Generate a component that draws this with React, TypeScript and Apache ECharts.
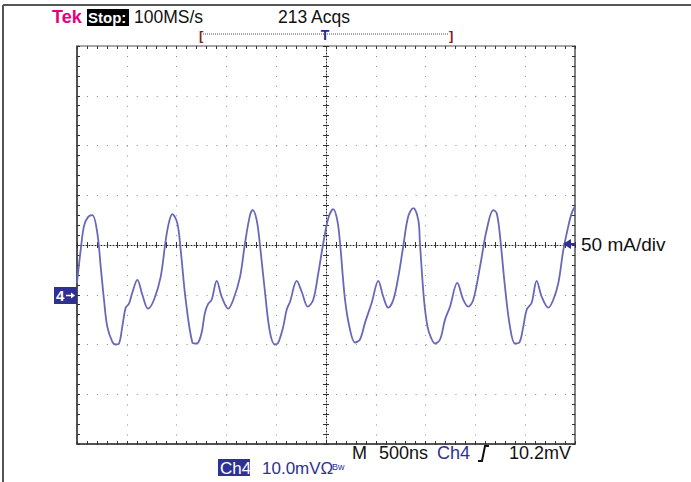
import React, { useEffect, useRef } from "react";
import * as echarts from "echarts";

// Oscilloscope acquisition: Ch4 current probe, 50 mA/div, 500 ns/div
const timeNs: number[] = [
  -2500, -2463, -2430, -2390, -2346, -2296, -2262, -2229, -2196, -2146, -2112, -2078, -2045, -2011,
  -1978, -1945, -1894, -1844, -1787, -1727, -1660, -1609, -1576, -1543, -1493, -1459, -1409, -1342,
  -1310, -1282, -1248, -1215, -1182, -1148, -1097, -1047, -981, -931, -863, -813, -763, -736,
  -696, -663, -612, -562, -512, -479, -429, -395, -361, -294, -244, -183, -128,
  -77, -27, 23, 73, 113, 141, 191, 241, 291, 341, 392, 459, 525, 575, 625, 676,
  726, 776, 826, 877, 927, 943, 984, 1019, 1054, 1094, 1145, 1195, 1245, 1318, 1378, 1428, 1479,
  1546, 1613, 1680, 1714, 1747, 1797, 1847, 1897, 1941, 1981, 2015, 2065, 2115, 2166, 2232, 2282,
  2333, 2383, 2433, 2467, 2500,
];
const currentMA: number[] = [
  12, 45, 69, 78, 80, 62, 28, -5, -32, -47, -50, -49, -32, -13,
  -9, 2, 15, 0, -14, -5, 18, 55, 73, 81, 72, 45, -5, -48,
  -49, -48, -38, -18, -9, -5, 14, -2, -14, -5, 18, 52, 80, 85,
  75, 50, 2, -38, -50, -48, -32, -15, -7, 14, 3, -12, -5,
  22, 52, 77, 86, 75, 52, -5, -35, -48, -45, -28, -8, 14, -2, -13, -5,
  18, 49, 79, 87, 75, 52, -5, -32, -43, -49, -45, -25, -12, 12, -5, -12, -5,
  28, 65, 85, 82, 59, 8, -32, -49, -48, -32, -15, -8, 14, -2, -13, -5,
  12, 45, 69, 82, 89,
];

const X_MIN = -2500;
const X_MAX = 2500;
const X_DIV = 500; // 500 ns/div
const Y_MIN = -150;
const Y_MAX = 250;
const Y_DIV = 50; // 50 mA/div

const FONT = '"Liberation Sans", Arial, Helvetica, sans-serif';
const NAVY = "#2e3192";

export default function App() {
  const ref = useRef<HTMLDivElement>(null);

  useEffect(() => {
    document.body.style.margin = "0";
    if (!ref.current) return;
    const chart = echarts.init(ref.current, undefined, { renderer: "svg" });

    const tickStyle = { color: "#333", width: 1 };
    const dotted = { color: "#8a8a8a", width: 1, type: [1, 8.96] as any };

    const frameX = (position: string, lineColor: string, split: boolean) => ({
      type: "value",
      min: X_MIN,
      max: X_MAX,
      interval: X_DIV,
      position,
      axisLine: { show: true, onZero: false, lineStyle: { color: lineColor, width: 1.5 } },
      axisTick: { show: true, inside: true, length: 3, lineStyle: tickStyle },
      minorTick: { show: true, splitNumber: 5, length: 3, lineStyle: tickStyle },
      axisLabel: { show: false },
      splitLine: { show: split, lineStyle: dotted },
    });
    const centerX = (position: string, line: boolean) => ({
      type: "value",
      min: X_MIN,
      max: X_MAX,
      interval: X_DIV,
      position,
      axisLine: {
        show: line,
        onZero: true,
        onZeroAxisIndex: 1,
        lineStyle: { color: "#222", width: 1, type: [1, 2] as any },
      },
      axisTick: { show: true, inside: true, length: 3, lineStyle: tickStyle },
      minorTick: { show: true, splitNumber: 5, length: 3, lineStyle: tickStyle },
      axisLabel: { show: false },
      splitLine: { show: false },
    });
    const frameY = (position: string, min: number, max: number, lineColor: string, split: boolean) => ({
      type: "value",
      min,
      max,
      interval: Y_DIV,
      position,
      axisLine: { show: true, onZero: false, lineStyle: { color: lineColor, width: 1.5 } },
      axisTick: { show: true, inside: true, length: 3, lineStyle: tickStyle },
      minorTick: { show: true, splitNumber: 5, length: 3, lineStyle: tickStyle },
      axisLabel: { show: false },
      splitLine: { show: split, lineStyle: dotted },
    });
    const centerY = (position: string, line: boolean) => ({
      type: "value",
      min: Y_MIN,
      max: Y_MAX,
      interval: Y_DIV,
      position,
      axisLine: {
        show: line,
        onZero: true,
        onZeroAxisIndex: 0,
        lineStyle: { color: "#222", width: 1, type: [1, 2] as any },
      },
      axisTick: { show: true, inside: true, length: 3, lineStyle: tickStyle },
      minorTick: { show: true, splitNumber: 5, length: 3, lineStyle: tickStyle },
      axisLabel: { show: false },
      splitLine: { show: false },
    });

    const txt = (text: string, x: number, y: number, fill: string, size: number, extra: any = {}) => ({
      type: "text",
      x,
      y,
      z: 10,
      style: {
        text,
        fill,
        font: `${extra.weight || "normal"} ${size}px ${FONT}`,
        align: extra.align || "left",
        verticalAlign: "middle",
      },
    });

    chart.setOption({
      animation: false,
      backgroundColor: "#ffffff",
      grid: { left: 77, top: 46, width: 498, height: 398, containLabel: false, outerBoundsMode: "none" },
      xAxis: [
        frameX("bottom", "#1a1a1a", true),
        frameX("top", "#8a8a8a", false),
        centerX("bottom", true),
        centerX("top", false),
      ],
      yAxis: [
        frameY("left", Y_MIN, Y_MAX, "#1a1a1a", true),
        frameY("right", -200, 200, "#555", false),
        centerY("left", true),
        centerY("right", false),
      ],
      series: [
        {
          type: "line",
          xAxisIndex: 0,
          yAxisIndex: 0,
          data: timeNs.map((t, i) => [t, currentMA[i]]),
          showSymbol: false,
          smooth: 0.35,
          lineStyle: { color: "#6868ba", width: 1.8 },
          z: 5,
        },
      ],
      graphic: [
        // outer screen border
        { type: "line", shape: { x1: 3, y1: 5, x2: 691, y2: 5 }, style: { stroke: "#555", lineWidth: 2 } },
        { type: "line", shape: { x1: 3, y1: 5, x2: 3, y2: 482 }, style: { stroke: "#555", lineWidth: 2 } },
        // header
        txt("Tek", 52, 17, "#e6007e", 18, { weight: "bold" }),
        { type: "rect", shape: { x: 87, y: 9, width: 42, height: 17 }, style: { fill: "#000" }, z: 9 },
        txt("Stop:", 88, 17.5, "#fff", 15, { weight: "bold" }),
        txt("100MS/s", 134, 17, "#111", 17.5),
        txt("213 Acqs", 278, 17, "#111", 17.5),
        // record / trigger position bar
        {
          type: "line",
          shape: { x1: 203, y1: 34, x2: 449, y2: 34 },
          style: { stroke: "#4a4ab0", lineWidth: 1, lineDash: [1, 1] },
        },
        txt("[", 199, 35, "#8b1a1a", 13, { weight: "bold" }),
        txt("]", 449, 35, "#8b1a1a", 13, { weight: "bold" }),
        txt("T", 325, 35, "#2a2a8a", 14, { align: "center", weight: "bold" }),
        // scale readout right
        txt("50 mA/div", 581, 244, "#111", 19),
        {
          type: "polygon",
          shape: { points: [[563, 244], [571, 239], [571, 249]] },
          style: { fill: NAVY },
          z: 10,
        },
        { type: "line", shape: { x1: 570, y1: 244, x2: 576, y2: 244 }, style: { stroke: NAVY, lineWidth: 2 }, z: 10 },
        // channel ground marker
        { type: "rect", shape: { x: 54, y: 287, width: 23, height: 17 }, style: { fill: NAVY }, z: 9 },
        txt("4", 56, 295.5, "#fff", 15, { weight: "bold" }),
        { type: "line", shape: { x1: 66, y1: 295.5, x2: 73, y2: 295.5 }, style: { stroke: "#fff", lineWidth: 1.5 }, z: 10 },
        {
          type: "polygon",
          shape: { points: [[75, 295.5], [71, 292.5], [71, 298.5]] },
          style: { fill: "#fff" },
          z: 10,
        },
        // bottom readouts
        txt("M", 352, 453, "#111", 18),
        txt("500ns", 379, 453, "#111", 18),
        txt("Ch4", 437, 453, NAVY, 18),
        {
          type: "polyline",
          shape: { points: [[478, 461], [482, 461], [485, 446], [489, 446]] },
          style: { stroke: "#111", lineWidth: 2, fill: null },
          z: 10,
        },
        txt("10.2mV", 509, 453, "#111", 18),
        { type: "rect", shape: { x: 218, y: 459, width: 32, height: 17 }, style: { fill: NAVY }, z: 9 },
        txt("Ch4", 220, 468, "#fff", 17),
        txt("10.0mVΩ", 262, 468, NAVY, 17),
        txt("Bw", 332, 467, NAVY, 9),
      ],
    });

    return () => chart.dispose();
  }, []);

  return <div ref={ref} style={{ width: 691, height: 482 }} />;
}
